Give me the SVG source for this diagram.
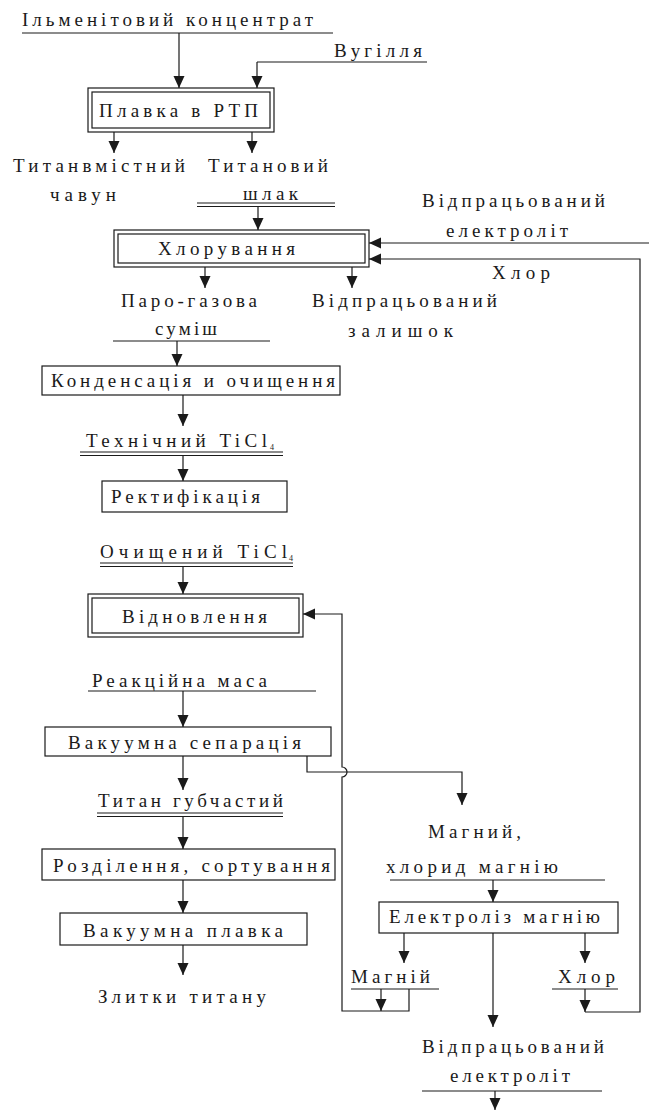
<svg xmlns="http://www.w3.org/2000/svg" width="649" height="1111" viewBox="0 0 649 1111" font-family="'Liberation Serif', 'Times New Roman', serif">
<defs>
<marker id="ah" viewBox="0 0 12 12" refX="12" refY="6" markerWidth="12" markerHeight="12" markerUnits="userSpaceOnUse" orient="auto">
<path d="M0,0.5 L12,6 L0,11.5 z" fill="#1a1a1a"/>
</marker>
<style>
text{font-family:"Liberation Serif","Times New Roman",serif;font-size:19px;fill:#1a1a1a}
.sub{font-size:8px}
.box{fill:none;stroke:#1a1a1a;stroke-width:1.2}
.ln{fill:none;stroke:#1a1a1a;stroke-width:1.2}
.ar{fill:none;stroke:#1a1a1a;stroke-width:1.2;marker-end:url(#ah)}
</style>
</defs>
<rect width="649" height="1111" fill="#fff"/>

<g id="ilmenite">
<text x="22" y="26" textLength="291" lengthAdjust="spacing">Ільменітовий концентрат</text>
<line class="ln" x1="22" y1="33" x2="333" y2="33"/>
</g>
<g id="coal">
<text x="334" y="57" textLength="88" lengthAdjust="spacing">Вугілля</text>
<line class="ln" x1="257" y1="62" x2="427" y2="62"/>
</g>
<g id="smelting">
<rect class="box" x="88" y="88" width="186" height="44"/>
<rect class="box" x="92" y="92" width="178" height="36"/>
<text x="99" y="117" textLength="159" lengthAdjust="spacing">Плавка в РТП</text>
</g>
<g id="pigiron">
<text x="13" y="172" textLength="172" lengthAdjust="spacing">Титанвмістний</text>
<text x="50" y="201" textLength="66" lengthAdjust="spacing">чавун</text>
</g>
<g id="slag">
<text x="208" y="172" textLength="120" lengthAdjust="spacing">Титановий</text>
<text x="243" y="200" textLength="55" lengthAdjust="spacing">шлак</text>
<line class="ln" x1="197" y1="203" x2="335" y2="203"/>
<line class="ln" x1="197" y1="206.5" x2="335" y2="206.5"/>
</g>
<g id="spent-electrolyte-top">
<text x="422" y="207" textLength="183" lengthAdjust="spacing">Відпрацьований</text>
<text x="446" y="237" textLength="122" lengthAdjust="spacing">електроліт</text>
</g>
<g id="chlorine-top">
<text x="492" y="279" textLength="58" lengthAdjust="spacing">Хлор</text>
</g>
<g id="chlorination">
<rect class="box" x="114" y="230" width="255" height="37"/>
<rect class="box" x="118" y="234" width="247" height="29"/>
<text x="158" y="255" textLength="137" lengthAdjust="spacing">Хлорування</text>
</g>
<g id="vapor-gas">
<text x="121" y="307" textLength="136" lengthAdjust="spacing">Паро-газова</text>
<text x="155" y="335" textLength="62" lengthAdjust="spacing">суміш</text>
<line class="ln" x1="113" y1="341" x2="270" y2="341"/>
</g>
<g id="residue">
<text x="312" y="307" textLength="185" lengthAdjust="spacing">Відпрацьований</text>
<text x="348" y="337" textLength="105" lengthAdjust="spacing">залишок</text>
</g>
<g id="condensation">
<rect class="box" x="42" y="366" width="298" height="29"/>
<text x="51" y="387" textLength="284" lengthAdjust="spacing">Конденсація и очищення</text>
</g>
<g id="tech-ticl4">
<text x="86" y="447" textLength="181" lengthAdjust="spacing">Технічний  TiCl</text>
<text class="sub" x="270" y="450">4</text>
<line class="ln" x1="80" y1="452" x2="283" y2="452"/>
<line class="ln" x1="80" y1="455.5" x2="283" y2="455.5"/>
</g>
<g id="rectification">
<rect class="box" x="102" y="481" width="185" height="31"/>
<text x="111" y="503" textLength="149" lengthAdjust="spacing">Ректифікація</text>
</g>
<g id="pure-ticl4">
<text x="100" y="558" textLength="187" lengthAdjust="spacing">Очищений  TiCl</text>
<text class="sub" x="289" y="561">4</text>
<line class="ln" x1="100" y1="563" x2="293" y2="563"/>
<line class="ln" x1="100" y1="566.5" x2="293" y2="566.5"/>
</g>
<g id="reduction">
<rect class="box" x="88" y="594" width="215" height="43"/>
<rect class="box" x="92" y="598" width="207" height="35"/>
<text x="122" y="623" textLength="145" lengthAdjust="spacing">Відновлення</text>
</g>
<g id="reaction-mass">
<text x="92" y="687" textLength="175" lengthAdjust="spacing">Реакційна маса</text>
<line class="ln" x1="88" y1="691" x2="316" y2="691"/>
</g>
<g id="vacuum-separation">
<rect class="box" x="45" y="727" width="286" height="29"/>
<text x="68" y="749" textLength="233" lengthAdjust="spacing">Вакуумна сепарація</text>
</g>
<g id="sponge">
<text x="98" y="807" textLength="185" lengthAdjust="spacing">Титан губчастий</text>
<line class="ln" x1="97" y1="813" x2="283" y2="813"/>
<line class="ln" x1="97" y1="816.5" x2="283" y2="816.5"/>
</g>
<g id="sorting">
<rect class="box" x="42" y="849" width="293" height="31"/>
<text x="53" y="872" textLength="277" lengthAdjust="spacing">Розділення, сортування</text>
</g>
<g id="vacuum-melting">
<rect class="box" x="60" y="913" width="247" height="32"/>
<text x="83" y="937" textLength="200" lengthAdjust="spacing">Вакуумна плавка</text>
</g>
<g id="ingots">
<text x="98" y="1003" textLength="168" lengthAdjust="spacing">Злитки титану</text>
</g>
<g id="mg-mgcl2">
<text x="428" y="838" textLength="93" lengthAdjust="spacing">Магний,</text>
<text x="386" y="873" textLength="172" lengthAdjust="spacing">хлорид магнію</text>
<line class="ln" x1="390" y1="880" x2="605" y2="880"/>
</g>
<g id="electrolysis">
<rect class="box" x="379" y="902" width="239" height="31"/>
<text x="389" y="923" textLength="211" lengthAdjust="spacing">Електроліз магнію</text>
</g>
<g id="magnesium">
<text x="351" y="983" textLength="79" lengthAdjust="spacing">Магній</text>
<line class="ln" x1="351" y1="989" x2="439" y2="989"/>
</g>
<g id="chlorine-bottom">
<text x="558" y="983" textLength="57" lengthAdjust="spacing">Хлор</text>
<line class="ln" x1="552" y1="989" x2="618" y2="989"/>
</g>
<g id="spent-electrolyte-bottom">
<text x="422" y="1053" textLength="182" lengthAdjust="spacing">Відпрацьований</text>
<text x="450" y="1082" textLength="120" lengthAdjust="spacing">електроліт</text>
<line class="ln" x1="422" y1="1091" x2="602" y2="1091"/>
</g>

<g id="connectors">
<path class="ar" d="M179,33 V88"/>
<path class="ar" d="M257,62 V88"/>
<path class="ar" d="M114,132 V153"/>
<path class="ar" d="M252,132 V153"/>
<path class="ar" d="M258,206.5 V230"/>
<path class="ar" d="M649,243 H369"/>
<path class="ar" d="M585,989 V1012"/>
<path class="ar" d="M585,1012 H640 V259 H369"/>
<path class="ar" d="M205,267 V288"/>
<path class="ar" d="M352,267 V288"/>
<path class="ar" d="M177,341 V366"/>
<path class="ar" d="M183,395 V426"/>
<path class="ar" d="M183,455.5 V481"/>
<path class="ar" d="M183,566.5 V594"/>
<path class="ar" d="M381,989 V1011"/>
<path class="ar" d="M409,989 V1011 H342 V777 A5,5 0 0 0 342,767 V614 H303"/>
<path class="ar" d="M183,691 V727"/>
<path class="ar" d="M183,756 V790"/>
<path class="ar" d="M307,756 V772 H462 V805"/>
<path class="ar" d="M183,816.5 V849"/>
<path class="ar" d="M183,880 V913"/>
<path class="ar" d="M183,945 V975"/>
<path class="ar" d="M493,880 V902"/>
<path class="ar" d="M404,933 V963"/>
<path class="ar" d="M585,933 V963"/>
<path class="ar" d="M493,933 V1027"/>
<path class="ar" d="M495,1091 V1110"/>
</g>
</svg>
